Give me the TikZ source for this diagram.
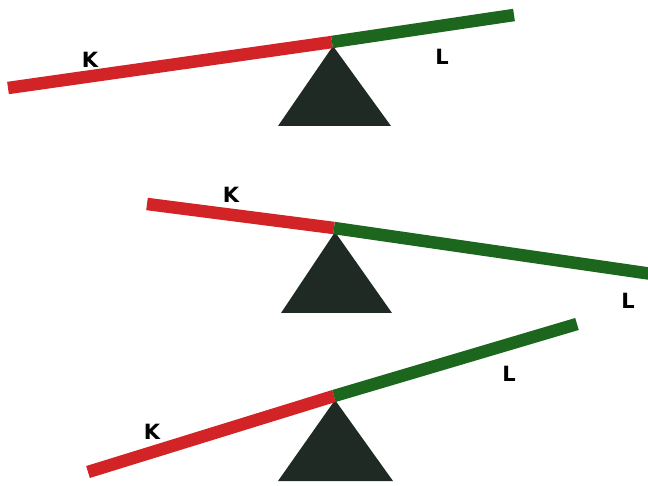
\documentclass[tikz,border=0pt]{standalone}
\usepackage{fontspec}
\setmainfont{DejaVu Sans}
\definecolor{barred}{RGB}{210,36,38}
\definecolor{bargreen}{RGB}{28,102,30}
\definecolor{pivot}{RGB}{31,42,36}
\tikzset{
  redbar/.style={draw=barred,line width=12.5pt,line cap=butt},
  greenbar/.style={draw=bargreen,line width=12.5pt,line cap=butt},
  fulcrum/.style={fill=pivot,draw=none},
  lbl/.style={font=\bfseries\fontsize{21}{21}\selectfont,text=black,inner sep=0pt}
}
\begin{document}
\begin{tikzpicture}[x=1pt,y=-1pt]
\useasboundingbox (0,0) rectangle (648,486);
% seesaw 1
\coordinate (a1) at (8,88);
\coordinate (p1) at (332,42);
\coordinate (b1) at (514,15);
\coordinate (t1) at (333,46);
\coordinate (l1) at (278,126);
\coordinate (r1) at (391,126);
\fill[fulcrum] (t1) -- (r1) -- (l1) -- cycle;
\draw[redbar] (a1) -- (p1);
\draw[greenbar] (p1) -- (b1);
\node[lbl] (k1) at (90,60) {K};
\node[lbl] (L1) at (442,57) {L};
% seesaw 2
\coordinate (a2) at (147,204);
\coordinate (p2) at (334,228);
\coordinate (b2) at (652,274);
\coordinate (t2) at (335,232);
\coordinate (l2) at (281,313);
\coordinate (r2) at (392,313);
\fill[fulcrum] (t2) -- (r2) -- (l2) -- cycle;
\draw[redbar] (a2) -- (p2);
\draw[greenbar] (p2) -- (b2);
\node[lbl] (k2) at (231,195) {K};
\node[lbl] (L2) at (628,301) {L};
% seesaw 3
\coordinate (a3) at (88,472);
\coordinate (p3) at (334,396);
\coordinate (b3) at (577,324);
\coordinate (t3) at (335,400);
\coordinate (l3) at (278,481);
\coordinate (r3) at (393,481);
\fill[fulcrum] (t3) -- (r3) -- (l3) -- cycle;
\draw[redbar] (a3) -- (p3);
\draw[greenbar] (p3) -- (b3);
\node[lbl] (k3) at (152,432) {K};
\node[lbl] (L3) at (509,374) {L};
\end{tikzpicture}
\end{document}
